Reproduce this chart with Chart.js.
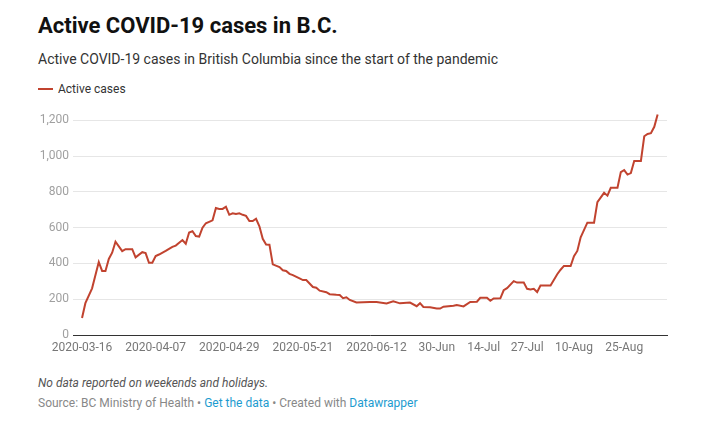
<!DOCTYPE html>
<html>
<head>
<meta charset="utf-8">
<script src="https://cdn.jsdelivr.net/npm/chart.js@4"></script>
<style>
  html, body { margin: 0; padding: 0; background: #fff; }
  body { width: 718px; height: 428px; position: relative; overflow: hidden; font-family: Roboto, "Noto Sans", sans-serif; }
  .title { position: absolute; left: 38px; top: 13px; font-size: 22px; font-weight: 700; color: #111; }
  .subtitle { position: absolute; left: 38px; top: 51px; font-size: 14px; color: #333; }
  .legend { position: absolute; left: 38px; top: 82px; font-size: 12px; color: #333; }
  .legend i { display: inline-block; width: 15px; height: 2px; background: #c1432f; vertical-align: middle; margin-right: 5px; position: relative; top: -1px; }
  .wrap { position: absolute; left: 30px; top: 102px; width: 650px; height: 263px; }
  .note { position: absolute; left: 38px; top: 376px; font-size: 12px; font-style: italic; color: #555; }
  .source { position: absolute; left: 38px; top: 396px; font-size: 12px; color: #888; }
  .source a { color: #1d9bcf; text-decoration: none; }
</style>
</head>
<body>
<div class="title">Active COVID-19 cases in B.C.</div>
<div class="subtitle">Active COVID-19 cases in British Columbia since the start of the pandemic</div>
<div class="legend"><i></i>Active cases</div>
<div class="wrap"><canvas id="casesChart"></canvas></div>
<div class="note">No data reported on weekends and holidays.</div>
<div class="source">Source: BC Ministry of Health • <a>Get the data</a> • Created with <a>Datawrapper</a></div>

<script>
const reportDates = [
  '2020-03-16','2020-03-17','2020-03-19','2020-03-21','2020-03-22','2020-03-23','2020-03-24','2020-03-25','2020-03-26','2020-03-28',
  '2020-03-29','2020-03-31','2020-04-01','2020-04-03','2020-04-04','2020-04-05','2020-04-06','2020-04-07','2020-04-08','2020-04-10',
  '2020-04-12','2020-04-13','2020-04-15','2020-04-16','2020-04-17','2020-04-18','2020-04-19','2020-04-20','2020-04-21','2020-04-22',
  '2020-04-24','2020-04-25','2020-04-26','2020-04-27','2020-04-28','2020-04-29','2020-04-30','2020-05-01','2020-05-02','2020-05-03',
  '2020-05-04','2020-05-05','2020-05-06','2020-05-07','2020-05-08','2020-05-09','2020-05-10','2020-05-11','2020-05-12','2020-05-14',
  '2020-05-15','2020-05-16','2020-05-17','2020-05-18','2020-05-20','2020-05-21','2020-05-22','2020-05-24','2020-05-25','2020-05-26',
  '2020-05-28','2020-05-29','2020-05-31','2020-06-01','2020-06-02','2020-06-03','2020-06-04','2020-06-06','2020-06-10','2020-06-12',
  '2020-06-15','2020-06-17','2020-06-19','2020-06-22','2020-06-24','2020-06-25','2020-06-26','2020-06-28','2020-06-30','2020-07-01',
  '2020-07-02','2020-07-05','2020-07-06','2020-07-08','2020-07-10','2020-07-12','2020-07-13','2020-07-15','2020-07-16','2020-07-17',
  '2020-07-19','2020-07-20','2020-07-21','2020-07-23','2020-07-24','2020-07-26','2020-07-27','2020-07-28','2020-07-29','2020-07-30',
  '2020-07-31','2020-08-03','2020-08-05','2020-08-06','2020-08-07','2020-08-09','2020-08-10','2020-08-11','2020-08-12','2020-08-14',
  '2020-08-16','2020-08-17','2020-08-19','2020-08-20','2020-08-21','2020-08-23','2020-08-24','2020-08-25','2020-08-26','2020-08-27',
  '2020-08-28','2020-08-30','2020-08-31','2020-09-01','2020-09-02','2020-09-03','2020-09-04'
];

const activeCases = [
  95, 178, 261, 408, 358, 358, 425, 460, 522, 469,
  480, 480, 434, 463, 458, 404, 404, 441, 450, 470,
  493, 500, 531, 510, 573, 580, 553, 550, 600, 625,
  641, 710, 705, 705, 717, 672, 680, 676, 680, 672,
  666, 637, 637, 650, 608, 538, 506, 505, 395, 380,
  362, 358, 342, 335, 316, 307, 307, 268, 264, 248,
  239, 228, 225, 224, 206, 211, 196, 182, 184, 185,
  176, 188, 177, 181, 161, 178, 157, 155, 148, 148,
  158, 163, 167, 160, 185, 186, 208, 208, 191, 204,
  205, 250, 262, 301, 293, 293, 258, 254, 258, 240,
  277, 277, 340, 365, 386, 386, 440, 470, 546, 628,
  628, 743, 795, 779, 823, 823, 911, 922, 897, 905,
  973, 973, 1111, 1124, 1128, 1164, 1233
];

const tickDates = ['2020-03-16','2020-04-07','2020-04-29','2020-05-21','2020-06-12','2020-06-30','2020-07-14','2020-07-27','2020-08-10','2020-08-25'];
const tickLabels = ['2020-03-16','2020-04-07','2020-04-29','2020-05-21','2020-06-12','30-Jun','14-Jul','27-Jul','10-Aug','25-Aug'];
const yTicks = [0, 200, 400, 600, 800, 1000, 1200];

const startMs = Date.UTC(2020, 2, 16);
function dayIndex(iso) {
  const p = iso.split('-').map(Number);
  return Math.round((Date.UTC(p[0], p[1] - 1, p[2]) - startMs) / 86400000);
}

const points = reportDates.map((d, i) => ({ x: dayIndex(d), y: activeCases[i] }));
const tickDays = tickDates.map(dayIndex);

const ctx = document.getElementById('casesChart').getContext('2d');
new Chart(ctx, {
  type: 'line',
  data: {
    datasets: [{
      label: 'Active cases',
      data: points,
      borderColor: '#c1432f',
      borderWidth: 2,
      pointRadius: 0,
      tension: 0,
      fill: false,
      clip: false
    }]
  },
  options: {
    responsive: true,
    maintainAspectRatio: false,
    animation: false,
    layout: { padding: { top: 0, right: 13, left: 0, bottom: 0 } },
    plugins: { legend: { display: false }, tooltip: { enabled: false } },
    scales: {
      x: {
        type: 'linear',
        min: -2.7,
        max: 174.8,
        afterBuildTicks: scale => { scale.ticks = tickDays.map(v => ({ value: v })); },
        afterFit: scale => { scale.height = 30; },
        grid: { display: false, drawTicks: false },
        border: { display: true, color: '#333', width: 1 },
        ticks: {
          autoSkip: false,
          maxRotation: 0,
          padding: 6,
          color: '#777',
          font: { family: 'Roboto', size: 12 },
          callback: value => {
            const i = tickDays.indexOf(value);
            return i >= 0 ? tickLabels[i] : '';
          }
        }
      },
      y: {
        min: 0,
        max: 1240,
        afterBuildTicks: scale => { scale.ticks = yTicks.map(v => ({ value: v })); },
        afterFit: scale => { scale.width = 43; },
        grid: { color: '#e6e6e6', drawTicks: false, lineWidth: 1 },
        border: { display: false },
        ticks: {
          padding: 4,
          color: '#a0a0a0',
          font: { family: 'Roboto', size: 12 },
          callback: value => value.toLocaleString('en-US')
        }
      }
    }
  }
});
</script>
</body>
</html>
